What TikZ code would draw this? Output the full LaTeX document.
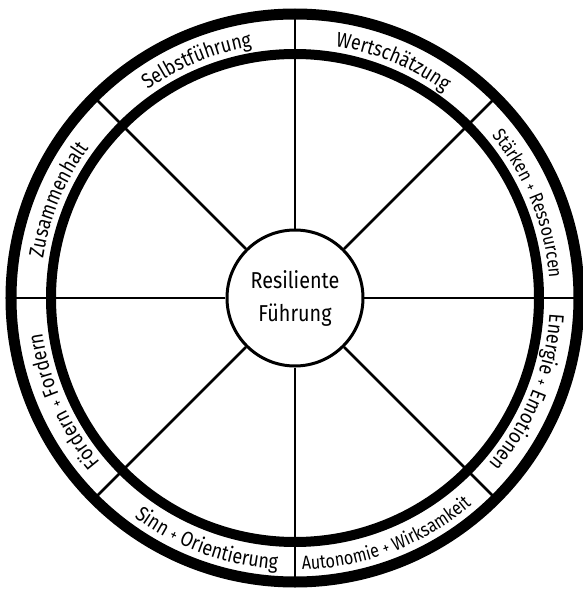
\documentclass[tikz,border=0pt]{standalone}
\usepackage{fontspec}
\setmainfont{Fira Sans}
\newfontfamily\handfamily[FakeStretch=0.85]{Fira Sans}
\newfontfamily\hubfamily[FakeStretch=0.86]{Fira Sans}
\usetikzlibrary{decorations.text}
\newcommand\ringfont{\handfamily\fontsize{21pt}{21pt}\selectfont}
\newcommand\ringsmall{\handfamily\fontsize{19pt}{19pt}\selectfont}
\newcommand\plusfont{\handfamily\fontsize{16pt}{16pt}\selectfont}
\begin{document}
\begin{tikzpicture}[x=1pt,y=1pt,
  outerring/.style={line width=11pt},
  innerring/.style={line width=10pt},
  spoke/.style={line width=2.5pt},
  hubstyle/.style={circle, draw, line width=3pt, minimum size=136pt, inner sep=0pt,
    align=center, font=\hubfamily\fontsize{23pt}{33pt}\selectfont},
  arclabel/.style={decorate, decoration={text along path, text align=center, text={|\ringfont|#1}}},
]
\useasboundingbox (-295,-294) rectangle (287,298);
\fill[white] (-295,-294) rectangle (287,298);
\node[hubstyle] (hub) at (0,0) {Resiliente\\Führung};
\foreach \a in {0,45,...,315} {
  \coordinate (o\a) at (\a:284);
  \draw[spoke] (hub.\a) -- (o\a);
}
\draw[outerring] (0,0) circle (284);
\draw[innerring] (0,0) circle (244);
% clockwise labels, tops outward
\path[arclabel={Selbstführung}] (147.5:255) arc[start angle=147.5, end angle=77.5, radius=255];
\path[arclabel={Wertschätzung}] (102.5:255) arc[start angle=102.5, end angle=32.5, radius=255];
\path[arclabel={|\ringsmall|Stärken |\plusfont|+|\ringsmall| Ressourcen}] (57:255) arc[start angle=57, end angle=-13, radius=255];
\path[arclabel={Energie |\plusfont|+|\ringfont| Emotionen}] (13:255) arc[start angle=13, end angle=-57, radius=255];
\path[arclabel={Zusammenhalt}] (192.5:255) arc[start angle=192.5, end angle=122.5, radius=255];
\path[arclabel={Fördern |\plusfont|+|\ringfont| Fordern}] (239:255) arc[start angle=239, end angle=169, radius=255];
% counterclockwise labels, tops inward
\path[arclabel={Sinn |\plusfont|+|\ringfont| Orientierung}] (-145:272) arc[start angle=-145, end angle=-75, radius=272];
\path[arclabel={|\ringsmall|Autonomie |\plusfont|+|\ringsmall| Wirksamkeit}] (-104:272) arc[start angle=-104, end angle=-34, radius=272];
\end{tikzpicture}
\end{document}
